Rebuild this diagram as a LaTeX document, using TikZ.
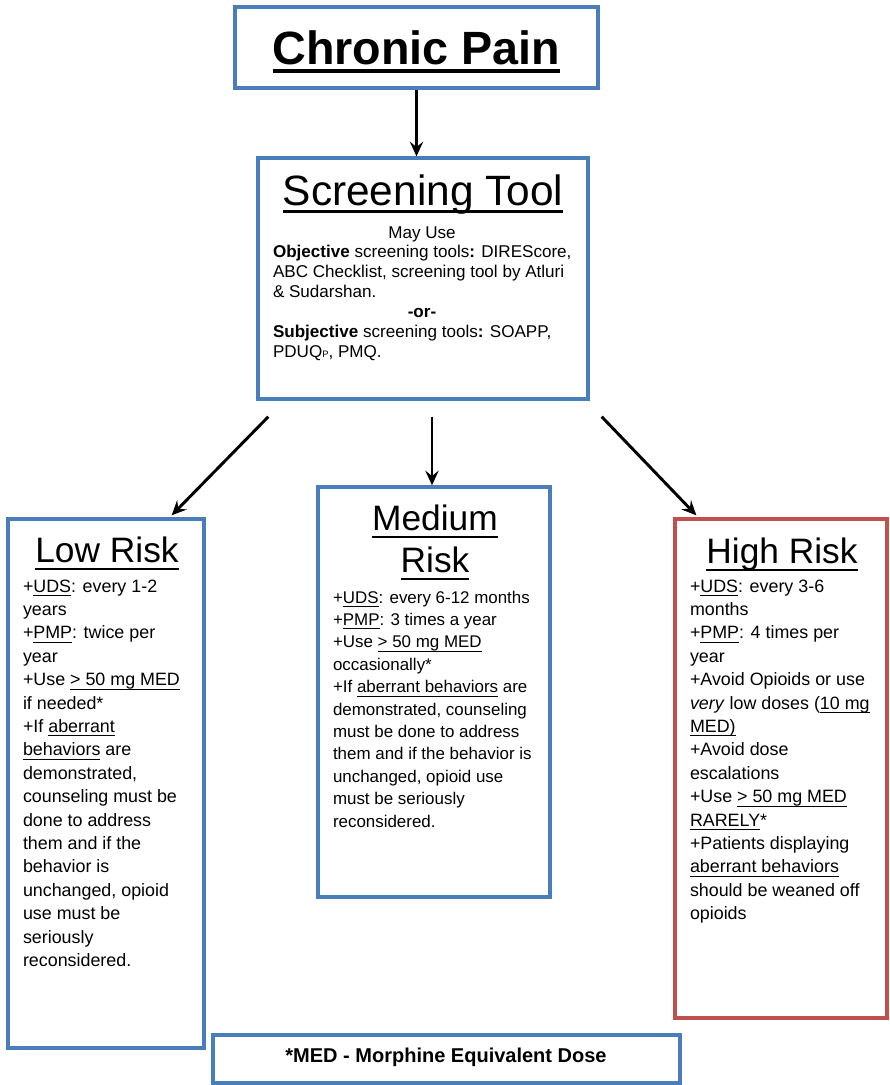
\documentclass[tikz,border=0pt]{standalone}
\usepackage{fontspec}
\setmainfont{Liberation Sans}
\usetikzlibrary{arrows.meta,calc}

\definecolor{boxblue}{RGB}{74,126,187}
\definecolor{boxred}{RGB}{192,80,77}

% underline: #1 = drop below baseline, #2 = thickness, #3 = text
\newbox\ulbox
\newcommand\ulr[3]{\hbox{\setbox\ulbox=\hbox{#3}%
  \hbox to 0pt{\vrule width \wd\ulbox height \dimexpr #2-#1\relax depth #1\hss}%
  \box\ulbox}}
\newcommand\bul[1]{\ulr{3pt}{0.8pt}{#1}}
\newcommand\tul[1]{\ulr{6.2pt}{1.8pt}{#1}}
% lines stacked with a fixed baseline distance; baseline = first line
% #1 baseline distance, #2 line width, #3 rows
\newcommand\stack[3]{\vtop{\hsize=#2\relax\baselineskip=#1\relax
  \lineskiplimit=-100pt\lineskip=0pt #3}}
\newcommand\rowl[1]{\hbox{#1}}
\newcommand\rowc[1]{\hbox to\hsize{\hfil#1\hfil}}
\newcommand\fnmark{*}

\begin{document}
\begin{tikzpicture}[x=0.75pt,y=-0.75pt,
  frame/.style={draw=boxblue,line width=2.5pt,rectangle,inner sep=0pt},
  redframe/.style={frame,draw=boxred},
  txt/.style={inner sep=0pt,outer sep=0pt},
  arr/.style={line width=2.2pt,-{Stealth[length=11pt,width=10pt,inset=4pt]}},
  bodyL/.style={txt,anchor=base west,font=\fontsize{13.4}{17.55}\selectfont},
  bodyM/.style={txt,anchor=base west,font=\fontsize{12.7}{16.8}\selectfont},
  ttl/.style={txt,anchor=base,font=\fontsize{26.5}{30}\selectfont}]
\useasboundingbox (0,0) rectangle (889,1085);

% boxes
\node[frame,minimum width={363*0.75pt},minimum height={81*0.75pt}] (chronic) at (416.5,47.5) {};
\node[frame,minimum width={330*0.75pt},minimum height={241*0.75pt}] (screen) at (423,278.5) {};
\node[frame,minimum width={196*0.75pt},minimum height={529*0.75pt}] (low) at (106,783.5) {};
\node[frame,minimum width={232*0.75pt},minimum height={410*0.75pt}] (medium) at (434,692) {};
\node[redframe,minimum width={212*0.75pt},minimum height={499*0.75pt}] (high) at (781,768.5) {};
\node[frame,minimum width={467*0.75pt},minimum height={48*0.75pt}] (footer) at (446.5,1059) {};

% headings
\node[txt,anchor=base,font=\fontsize{35}{40}\selectfont\bfseries] (chronicT) at (416.5,64)
  {\ulr{6.5pt}{2.6pt}{Chronic Pain}};
\node[txt,anchor=base,font=\fontsize{31.8}{36}\selectfont] (screenT) at (423,205)
  {\ulr{6pt}{2pt}{Screening Tool}};
\node[ttl] (lowT) at (107,562) {\tul{Low Risk}};
\node[ttl] (medT) at (435,530)
  {\stack{31.5pt}{100pt}{\rowc{\tul{Medium}}\rowc{\tul{Risk}}}};
\node[ttl] (highT) at (782,563) {\tul{High Risk}};

% screening text
\node[txt,anchor=base west,font=\fontsize{12.8}{14.9}\selectfont] (screenB) at (273,238)
  {\stack{14.9pt}{223.5pt}{%
   \rowc{May Use}
   \rowl{\textbf{Objective} screening tools\textbf{:} DIREScore,}
   \rowl{ABC Checklist, screening tool by Atluri}
   \rowl{\& Sudarshan.}
   \rowc{\textbf{-or-}}
   \rowl{\textbf{Subjective} screening tools\textbf{:} SOAPP,}
   \rowl{PDUQ{\scriptsize P}, PMQ.}}};

% low risk text
\node[bodyL] (lowB) at (23,592)
  {\stack{17.55pt}{150pt}{%
   \rowl{+\bul{UDS}: every 1-2}
   \rowl{years}
   \rowl{+\bul{PMP}: twice per}
   \rowl{year}
   \rowl{+Use \bul{> 50 mg MED}}
   \rowl{if needed\fnmark}
   \rowl{+If \bul{aberrant}}
   \rowl{\bul{behaviors} are}
   \rowl{demonstrated,}
   \rowl{counseling must be}
   \rowl{done to address}
   \rowl{them and if the}
   \rowl{behavior is}
   \rowl{unchanged, opioid}
   \rowl{use must be}
   \rowl{seriously}
   \rowl{reconsidered.}}};

% medium risk text
\node[bodyM] (medB) at (333,603)
  {\stack{16.8pt}{150pt}{%
   \rowl{+\bul{UDS}: every 6-12 months}
   \rowl{+\bul{PMP}: 3 times a year}
   \rowl{+Use \bul{> 50 mg MED}}
   \rowl{occasionally\fnmark}
   \rowl{+If \bul{aberrant behaviors} are}
   \rowl{demonstrated, counseling}
   \rowl{must be done to address}
   \rowl{them and if the behavior is}
   \rowl{unchanged, opioid use}
   \rowl{must be seriously}
   \rowl{reconsidered.}}};

% high risk text
\node[bodyL] (highB) at (690,592)
  {\stack{17.55pt}{150pt}{%
   \rowl{+\bul{UDS}: every 3-6}
   \rowl{months}
   \rowl{+\bul{PMP}: 4 times per}
   \rowl{year}
   \rowl{+Avoid Opioids or use}
   \rowl{\textit{very} low doses (\bul{10 mg}}
   \rowl{\bul{MED)}}
   \rowl{+Avoid dose}
   \rowl{escalations}
   \rowl{+Use \bul{> 50 mg MED}}
   \rowl{\bul{RARELY}\fnmark}
   \rowl{+Patients displaying}
   \rowl{\bul{aberrant behaviors}}
   \rowl{should be weaned off}
   \rowl{opioids}}};

% footnote
\node[txt,anchor=base,font=\fontsize{15}{18}\selectfont\bfseries] (footerT) at (446,1062)
  {\fnmark MED - Morphine Equivalent Dose};

% connectors
\coordinate (outL) at ($(screen.south west)+(12,16)$);
\coordinate (outM) at ($(screen.south)+(9,16)$);
\coordinate (outR) at ($(screen.south east)+(12,16)$);
\draw[arr] (chronic.south) -- (chronic.south |- screen.north);
\draw[arr] (outL) -- ($(low.north east)+(-34,-2)$);
\draw[arr] (outM) -- (outM |- medium.north);
\draw[arr] (outR) -- ($(high.north west)+(23,-2)$);
\end{tikzpicture}
\end{document}
